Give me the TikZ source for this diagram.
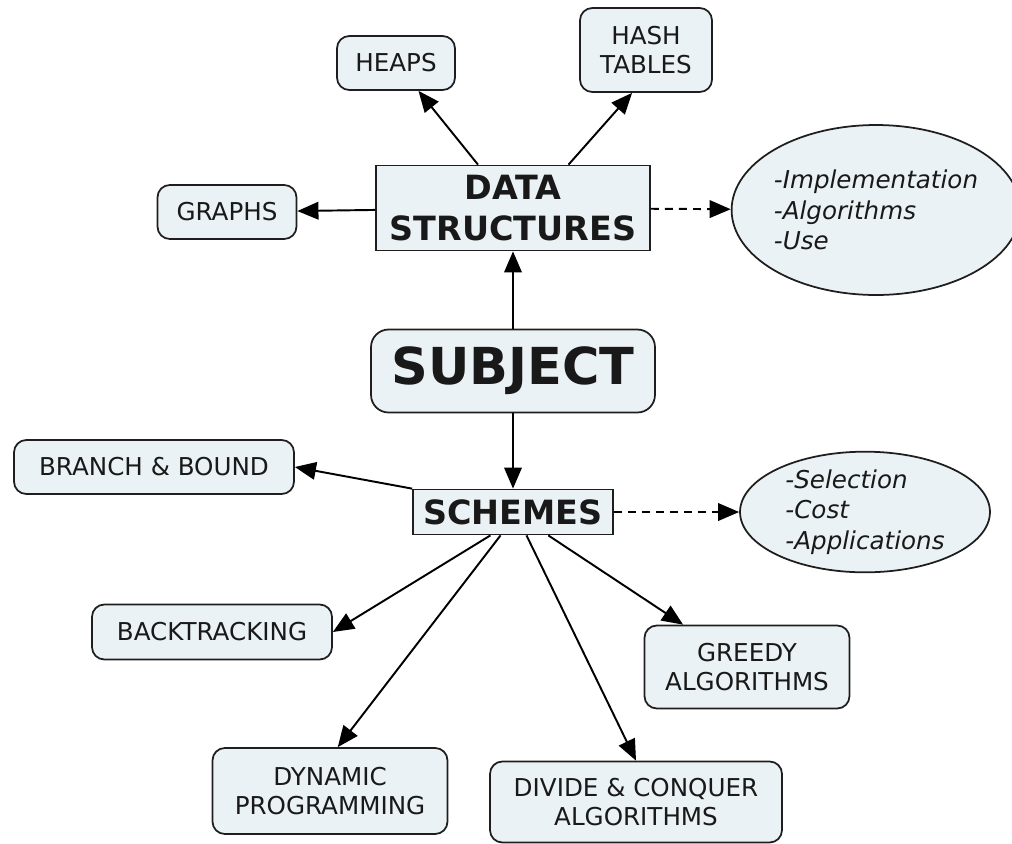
\documentclass[tikz,border=0pt]{standalone}
\usepackage{fontspec}
\setmainfont{DejaVu Sans}
\usepackage{xcolor}
\usetikzlibrary{arrows.meta, shapes.geometric}
\definecolor{boxfill}{RGB}{235,242,245}
\definecolor{boxline}{RGB}{30,30,30}
\definecolor{boxtext}{RGB}{25,25,25}
\tikzset{
  % riquadri della mappa
  box/.style={draw=boxline,fill=boxfill,text=boxtext,line width=1pt,inner sep=0,align=center,
    font=\fontsize{14}{17}\selectfont},
  box round/.style={box,rounded corners=7pt},
  box main/.style={box,font=\fontsize{19}{23}\selectfont\bfseries},
  box subject/.style={box round,rounded corners=10pt,font=\fontsize{29}{34}\selectfont\bfseries},
  % note a forma di ellisse
  note/.style={box,ellipse,align=left,font=\fontsize{14}{17.5}\selectfont\itshape},
  % connessioni
  connect arrow/.style={-{Triangle[length=12pt,width=10pt]},line width=1.1pt,black},
  connect dash/.style={connect arrow,dash pattern=on 4.5pt off 3.5pt}
}

\begin{document}
\begin{tikzpicture}[x=0.02cm,y=-0.02cm]
    \useasboundingbox (0,0) rectangle (1012,843);
    % centro
    \node[box subject,minimum width=5.68cm,minimum height=1.66cm] (subj) at (513,371) {SUBJECT};
    \node[box main,minimum width=5.48cm,minimum height=1.70cm] (ds) at (513,208) {DATA\\STRUCTURES};
    \node[box main,minimum width=4.0cm,minimum height=0.9cm] (sch) at (513,512) {SCHEMES};
    % strutture dati
    \node[box round,minimum width=2.36cm,minimum height=1.08cm] (heaps) at (396,63) {HEAPS};
    \node[box round,minimum width=2.64cm,minimum height=1.68cm] (hash) at (646,50) {HASH\\TABLES};
    \node[box round,minimum width=2.78cm,minimum height=1.08cm] (graphs) at (227,212) {GRAPHS};
    \node[note,minimum width=5.6cm,minimum height=3.4cm] (dsnote) at (876,210)
      {-Implementation\\-Algorithms\\-Use};
    % schemi
    \node[box round,minimum width=5.6cm,minimum height=1.08cm] (bb) at (154,467) {BRANCH \& BOUND};
    \node[box round,minimum width=4.8cm,minimum height=1.1cm] (bt) at (212,632) {BACKTRACKING};
    \node[box round,minimum width=4.1cm,minimum height=1.66cm] (grd) at (747,667) {GREEDY\\ALGORITHMS};
    \node[box round,minimum width=4.7cm,minimum height=1.72cm] (dyn) at (330,791) {DYNAMIC\\PROGRAMMING};
    \node[box round,minimum width=5.84cm,minimum height=1.62cm] (div) at (636,802)
      {DIVIDE \& CONQUER\\ALGORITHMS};
    \node[note,minimum width=5.0cm,minimum height=2.34cm] (schnote) at (865,512)
      {-Selection\\-Cost\\-Applications};

    \draw[connect arrow] (subj) -- (ds);
    \draw[connect arrow] (subj) -- (sch);
    \draw[connect arrow] (ds) -- (heaps);
    \draw[connect arrow] (ds.38) -- (hash.252);
    \draw[connect arrow] (ds) -- (graphs);
    \draw[connect dash] (ds) -- (dsnote);
    \draw[connect arrow] (sch.north west) -- (bb.east);
    \draw[connect arrow] (sch.226) -- (bt.east);
    \draw[connect arrow] (sch.242) -- (dyn.80);
    \draw[connect arrow] (sch.300) -- (div.north);
    \draw[connect arrow] (sch) -- (grd);
    \draw[connect dash] (sch) -- (schnote);
  \end{tikzpicture}
\end{document}
